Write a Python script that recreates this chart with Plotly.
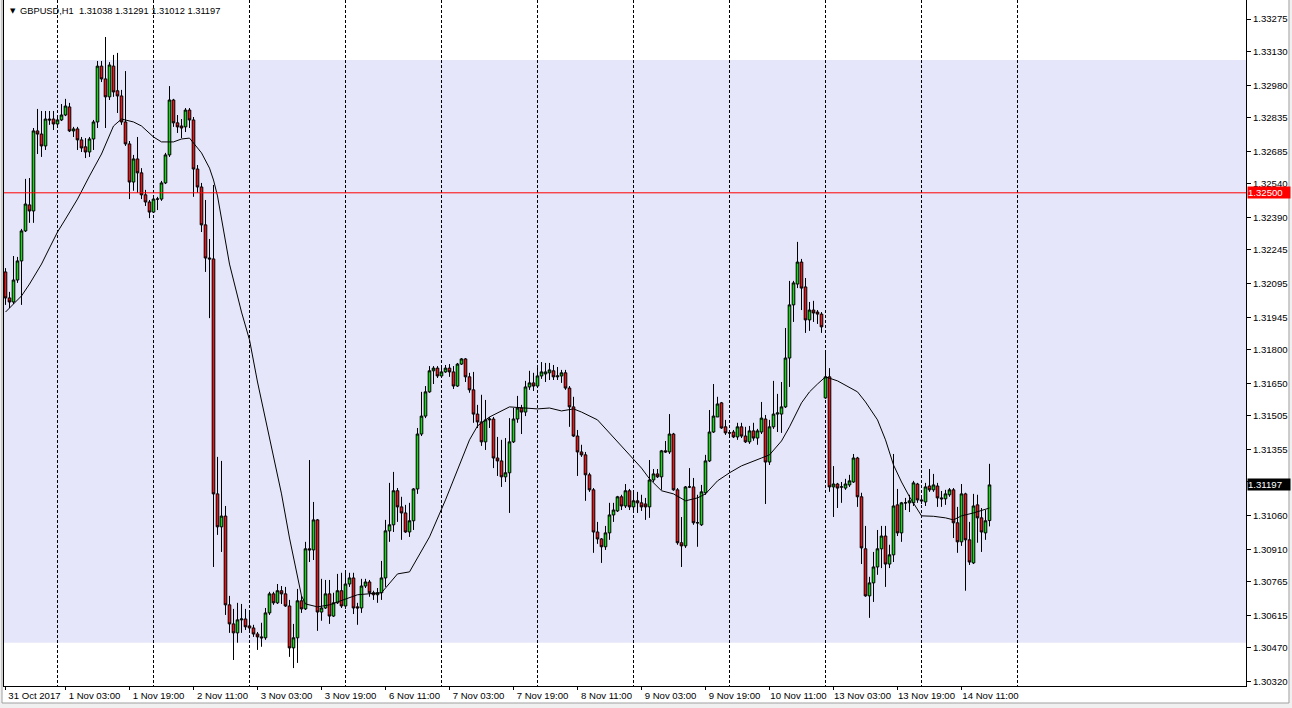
import plotly.graph_objects as go

# ---------------- data ----------------
symbol = "GBPUSD,H1"

opens = [
    1.32147, 1.32031, 1.32013, 1.32111, 1.32196, 1.32330, 1.32446, 1.32419, 1.32776, 1.32762,
    1.32709, 1.32829, 1.32829, 1.32807, 1.32825, 1.32847, 1.32883, 1.32776, 1.32785, 1.32736,
    1.32705, 1.32682, 1.32740, 1.32816, 1.33065, 1.33008, 1.32928, 1.33065, 1.32955, 1.32932,
    1.32816, 1.32718, 1.32548, 1.32651, 1.32589, 1.32491, 1.32459, 1.32414, 1.32472, 1.32472,
    1.32544, 1.32669, 1.32914, 1.32812, 1.32798, 1.32794, 1.32869, 1.32825, 1.32606, 1.32526,
    1.32357, 1.32209, 1.32205, 1.31157, 1.31010, 1.31058, 1.30662, 1.30577, 1.30537, 1.30595,
    1.30599, 1.30568, 1.30559, 1.30532, 1.30519, 1.30515, 1.30626, 1.30711, 1.30671, 1.30725,
    1.30711, 1.30657, 1.30470, 1.30515, 1.30680, 1.30644, 1.30912, 1.30907, 1.31041, 1.30630,
    1.30648, 1.30711, 1.30612, 1.30671, 1.30725, 1.30657, 1.30755, 1.30782, 1.30653, 1.30648,
    1.30746, 1.30764, 1.30716, 1.30707, 1.30716, 1.30782, 1.30992, 1.31019, 1.31171, 1.31099,
    1.31072, 1.30987, 1.31037, 1.31179, 1.31424, 1.31504, 1.31612, 1.31706, 1.31718, 1.31683,
    1.31701, 1.31718, 1.31701, 1.31638, 1.31736, 1.31759, 1.31679, 1.31621, 1.31513, 1.31478,
    1.31389, 1.31487, 1.31491, 1.31317, 1.31304, 1.31233, 1.31251, 1.31389, 1.31491, 1.31540,
    1.31522, 1.31634, 1.31652, 1.31638, 1.31683, 1.31692, 1.31697, 1.31706, 1.31679, 1.31683,
    1.31697, 1.31629, 1.31545, 1.31415, 1.31344, 1.31331, 1.31242, 1.31175, 1.30987, 1.30956,
    1.30921, 1.30983, 1.31063, 1.31081, 1.31144, 1.31103, 1.31171, 1.31099, 1.31126, 1.31117,
    1.31112, 1.31099, 1.31219, 1.31246, 1.31233, 1.31349, 1.31344, 1.31424, 1.31175, 1.30939,
    1.30925, 1.31188, 1.31188, 1.31028, 1.31019, 1.31162, 1.31304, 1.31433, 1.31500, 1.31563,
    1.31456, 1.31429, 1.31433, 1.31411, 1.31456, 1.31415, 1.31389, 1.31438, 1.31406, 1.31433,
    1.31491, 1.31299, 1.31456, 1.31513, 1.31513, 1.31545, 1.31763, 1.32000, 1.32093, 1.32191,
    1.32080, 1.31933, 1.31977, 1.31968, 1.31959, 1.31585, 1.31679, 1.31188, 1.31201, 1.31188,
    1.31183, 1.31197, 1.31210, 1.31317, 1.31144, 1.30912, 1.30702, 1.30760, 1.30831, 1.30912,
    1.30969, 1.30844, 1.30885, 1.31108, 1.30983, 1.31117, 1.31117, 1.31117, 1.31201, 1.31130,
    1.31121, 1.31192, 1.31175, 1.31192, 1.31139, 1.31135, 1.31153, 1.31175, 1.31028, 1.30943,
    1.31157, 1.30952, 1.30849, 1.31108, 1.31050, 1.30983, 1.31038,
]

highs = [
    1.32164, 1.32058, 1.32218, 1.32214, 1.32339, 1.32562, 1.32566, 1.32789, 1.32874, 1.32865,
    1.32865, 1.32865, 1.32865, 1.32847, 1.32896, 1.32919, 1.32901, 1.32794, 1.32794, 1.32749,
    1.32744, 1.32749, 1.32825, 1.33088, 1.33088, 1.33195, 1.33083, 1.33115, 1.33124, 1.32959,
    1.33043, 1.32731, 1.32669, 1.32749, 1.32610, 1.32513, 1.32468, 1.32482, 1.32482, 1.32553,
    1.32678, 1.32976, 1.32919, 1.32847, 1.32829, 1.32878, 1.32878, 1.32838, 1.32624, 1.32544,
    1.32468, 1.32294, 1.32535, 1.31322, 1.31304, 1.31103, 1.30702, 1.30644, 1.30671, 1.30666,
    1.30644, 1.30630, 1.30573, 1.30541, 1.30582, 1.30648, 1.30720, 1.30720, 1.30755, 1.30746,
    1.30742, 1.30684, 1.30577, 1.30733, 1.30702, 1.30943, 1.31308, 1.31121, 1.31045, 1.30778,
    1.30773, 1.30773, 1.30716, 1.30800, 1.30805, 1.30809, 1.30805, 1.30805, 1.30671, 1.30778,
    1.30778, 1.30773, 1.30725, 1.30737, 1.30858, 1.31041, 1.31206, 1.31255, 1.31183, 1.31144,
    1.31108, 1.31117, 1.31183, 1.31451, 1.31612, 1.31638, 1.31727, 1.31727, 1.31727, 1.31727,
    1.31732, 1.31736, 1.31727, 1.31741, 1.31763, 1.31763, 1.31697, 1.31701, 1.31554, 1.31599,
    1.31576, 1.31500, 1.31500, 1.31411, 1.31398, 1.31406, 1.31495, 1.31540, 1.31594, 1.31554,
    1.31661, 1.31706, 1.31697, 1.31732, 1.31745, 1.31741, 1.31741, 1.31732, 1.31723, 1.31710,
    1.31710, 1.31638, 1.31590, 1.31442, 1.31376, 1.31344, 1.31251, 1.31183, 1.31032, 1.30960,
    1.31014, 1.31117, 1.31117, 1.31148, 1.31153, 1.31201, 1.31179, 1.31166, 1.31166, 1.31153,
    1.31139, 1.31308, 1.31268, 1.31268, 1.31353, 1.31393, 1.31513, 1.31429, 1.31183, 1.31054,
    1.31192, 1.31272, 1.31228, 1.31153, 1.31197, 1.31331, 1.31531, 1.31647, 1.31590, 1.31567,
    1.31487, 1.31442, 1.31442, 1.31474, 1.31474, 1.31456, 1.31460, 1.31474, 1.31447, 1.31567,
    1.31509, 1.31487, 1.31661, 1.31603, 1.31656, 1.31897, 1.32107, 1.32107, 1.32281, 1.32205,
    1.32120, 1.32013, 1.32018, 1.31977, 1.31968, 1.31790, 1.31718, 1.31281, 1.31206, 1.31210,
    1.31224, 1.31242, 1.31335, 1.31322, 1.31162, 1.31014, 1.30787, 1.30898, 1.30996, 1.31014,
    1.31014, 1.30930, 1.31335, 1.31179, 1.31121, 1.31139, 1.31153, 1.31215, 1.31206, 1.31144,
    1.31206, 1.31268, 1.31246, 1.31206, 1.31170, 1.31175, 1.31183, 1.31183, 1.31099, 1.31201,
    1.31162, 1.31032, 1.31157, 1.31153, 1.31094, 1.31085, 1.31291,
]

lows = [
    1.32000, 1.31986, 1.32004, 1.32098, 1.32000, 1.32325, 1.32366, 1.32366, 1.32673, 1.32660,
    1.32691, 1.32803, 1.32780, 1.32789, 1.32820, 1.32842, 1.32771, 1.32749, 1.32691, 1.32682,
    1.32655, 1.32660, 1.32691, 1.32789, 1.32994, 1.32789, 1.32914, 1.32928, 1.32856, 1.32803,
    1.32709, 1.32472, 1.32509, 1.32500, 1.32472, 1.32441, 1.32387, 1.32410, 1.32423, 1.32464,
    1.32539, 1.32660, 1.32794, 1.32767, 1.32744, 1.32771, 1.32789, 1.32482, 1.32500, 1.32325,
    1.32147, 1.31941, 1.30831, 1.30974, 1.30898, 1.30617, 1.30537, 1.30416, 1.30493, 1.30537,
    1.30550, 1.30541, 1.30519, 1.30461, 1.30475, 1.30506, 1.30617, 1.30662, 1.30666, 1.30666,
    1.30653, 1.30430, 1.30380, 1.30403, 1.30626, 1.30639, 1.30853, 1.30862, 1.30546, 1.30591,
    1.30644, 1.30577, 1.30608, 1.30666, 1.30648, 1.30644, 1.30742, 1.30621, 1.30573, 1.30626,
    1.30737, 1.30698, 1.30684, 1.30671, 1.30684, 1.30742, 1.30943, 1.30987, 1.31032, 1.30952,
    1.30983, 1.30965, 1.30996, 1.31157, 1.31415, 1.31495, 1.31608, 1.31647, 1.31674, 1.31674,
    1.31697, 1.31679, 1.31625, 1.31634, 1.31732, 1.31656, 1.31608, 1.31474, 1.31451, 1.31371,
    1.31353, 1.31451, 1.31272, 1.31237, 1.31188, 1.31210, 1.31072, 1.31384, 1.31474, 1.31424,
    1.31504, 1.31621, 1.31616, 1.31629, 1.31670, 1.31656, 1.31665, 1.31665, 1.31665, 1.31652,
    1.31621, 1.31456, 1.31411, 1.31237, 1.31322, 1.31126, 1.31166, 1.30894, 1.30934, 1.30849,
    1.30907, 1.30952, 1.31032, 1.31076, 1.31085, 1.31094, 1.31085, 1.31085, 1.31072, 1.31081,
    1.31041, 1.31050, 1.31210, 1.31228, 1.31175, 1.31340, 1.31335, 1.31171, 1.30930, 1.30831,
    1.30916, 1.31183, 1.31019, 1.30921, 1.31014, 1.31153, 1.31299, 1.31429, 1.31500, 1.31447,
    1.31420, 1.31406, 1.31406, 1.31398, 1.31406, 1.31384, 1.31380, 1.31394, 1.31376, 1.31424,
    1.31112, 1.31286, 1.31447, 1.31433, 1.31429, 1.31540, 1.31634, 1.31924, 1.32075, 1.31977,
    1.31875, 1.31884, 1.31924, 1.31915, 1.31875, 1.31581, 1.31166, 1.31054, 1.31094, 1.31117,
    1.31175, 1.31188, 1.31206, 1.31099, 1.30844, 1.30698, 1.30604, 1.30675, 1.30796, 1.30826,
    1.30742, 1.30826, 1.30853, 1.30969, 1.30943, 1.31085, 1.31076, 1.31103, 1.31117, 1.31112,
    1.31103, 1.31166, 1.31166, 1.31099, 1.31099, 1.31108, 1.31144, 1.30960, 1.30894, 1.30925,
    1.30725, 1.30840, 1.30844, 1.30939, 1.30898, 1.30952, 1.31012,
]

closes = [
    1.32031, 1.32013, 1.32111, 1.32196, 1.32330, 1.32450, 1.32419, 1.32776, 1.32762, 1.32709,
    1.32829, 1.32825, 1.32807, 1.32825, 1.32847, 1.32887, 1.32776, 1.32785, 1.32736, 1.32700,
    1.32682, 1.32740, 1.32816, 1.33065, 1.33008, 1.32928, 1.33070, 1.32950, 1.32932, 1.32816,
    1.32718, 1.32548, 1.32651, 1.32589, 1.32491, 1.32459, 1.32414, 1.32472, 1.32472, 1.32544,
    1.32669, 1.32914, 1.32812, 1.32794, 1.32789, 1.32869, 1.32825, 1.32606, 1.32526, 1.32357,
    1.32209, 1.32205, 1.31157, 1.31010, 1.31058, 1.30662, 1.30577, 1.30537, 1.30595, 1.30599,
    1.30564, 1.30559, 1.30532, 1.30519, 1.30515, 1.30626, 1.30711, 1.30671, 1.30725, 1.30711,
    1.30657, 1.30470, 1.30515, 1.30680, 1.30644, 1.30912, 1.30907, 1.31041, 1.30630, 1.30648,
    1.30711, 1.30612, 1.30671, 1.30725, 1.30657, 1.30755, 1.30782, 1.30648, 1.30648, 1.30746,
    1.30764, 1.30716, 1.30707, 1.30716, 1.30782, 1.30992, 1.31019, 1.31171, 1.31099, 1.31072,
    1.30987, 1.31037, 1.31179, 1.31424, 1.31504, 1.31612, 1.31706, 1.31718, 1.31683, 1.31701,
    1.31718, 1.31701, 1.31638, 1.31736, 1.31759, 1.31679, 1.31621, 1.31513, 1.31478, 1.31389,
    1.31487, 1.31491, 1.31317, 1.31304, 1.31233, 1.31251, 1.31389, 1.31491, 1.31540, 1.31522,
    1.31634, 1.31652, 1.31638, 1.31683, 1.31701, 1.31701, 1.31710, 1.31679, 1.31683, 1.31697,
    1.31629, 1.31545, 1.31415, 1.31344, 1.31331, 1.31242, 1.31175, 1.30987, 1.30956, 1.30921,
    1.30983, 1.31063, 1.31085, 1.31144, 1.31103, 1.31171, 1.31099, 1.31126, 1.31117, 1.31099,
    1.31099, 1.31219, 1.31246, 1.31233, 1.31349, 1.31344, 1.31424, 1.31175, 1.30939, 1.30925,
    1.31188, 1.31188, 1.31028, 1.31028, 1.31166, 1.31304, 1.31433, 1.31504, 1.31558, 1.31451,
    1.31429, 1.31429, 1.31411, 1.31456, 1.31415, 1.31389, 1.31438, 1.31406, 1.31438, 1.31495,
    1.31299, 1.31456, 1.31513, 1.31518, 1.31545, 1.31763, 1.32000, 1.32098, 1.32191, 1.32075,
    1.31933, 1.31977, 1.31964, 1.31959, 1.31902, 1.31679, 1.31188, 1.31201, 1.31183, 1.31188,
    1.31201, 1.31215, 1.31317, 1.31144, 1.30916, 1.30702, 1.30760, 1.30831, 1.30912, 1.30969,
    1.30844, 1.30885, 1.31103, 1.30983, 1.31117, 1.31117, 1.31126, 1.31206, 1.31130, 1.31126,
    1.31188, 1.31175, 1.31197, 1.31139, 1.31135, 1.31157, 1.31175, 1.31028, 1.30943, 1.31157,
    1.30952, 1.30853, 1.31103, 1.31050, 1.30987, 1.31037, 1.31197,
]

bar_index = list(range(len(closes)))

# moving-average line, read at selected bars
ma_bars = [0, 4, 6, 9, 11, 13, 15, 18, 21, 24, 27, 29, 32, 34, 37, 39, 42, 44, 46, 47,
           49, 51, 52, 53, 56, 59, 61, 63, 66, 69, 71, 73, 74, 75, 78, 81, 84, 88, 94, 98,
           101, 103, 106, 110, 113, 116, 118, 121, 126, 129, 133, 136, 139, 142, 144, 148, 152, 156, 159, 161,
           164, 167, 170, 173, 175, 178, 181, 184, 189, 191, 194, 196, 199, 201, 203, 205, 208, 213, 215, 218,
           220, 222, 224, 226, 229, 232, 235, 237, 239, 242, 246]
ma_values = [1.31968, 1.32040, 1.32093, 1.32182, 1.32254, 1.32325, 1.32383, 1.32472, 1.32575, 1.32673,
             1.32798, 1.32829, 1.32816, 1.32798, 1.32749, 1.32727, 1.32727, 1.32740, 1.32744, 1.32722,
             1.32678, 1.32610, 1.32557, 1.32486, 1.32182, 1.31968, 1.31844, 1.31656, 1.31407, 1.31157,
             1.30960, 1.30791, 1.30702, 1.30666, 1.30653, 1.30662, 1.30680, 1.30707, 1.30716, 1.30800,
             1.30809, 1.30871, 1.30965, 1.31130, 1.31268, 1.31398, 1.31460, 1.31500, 1.31545, 1.31540,
             1.31536, 1.31540, 1.31527, 1.31536, 1.31522, 1.31487, 1.31411, 1.31331, 1.31272, 1.31224,
             1.31171, 1.31157, 1.31126, 1.31139, 1.31157, 1.31215, 1.31251, 1.31282, 1.31317, 1.31331,
             1.31393, 1.31456, 1.31563, 1.31612, 1.31647, 1.31679, 1.31661, 1.31612, 1.31567, 1.31487,
             1.31398, 1.31286, 1.31210, 1.31144, 1.31059, 1.31057, 1.31050, 1.31041, 1.31059, 1.31072,
             1.31094]

time_label_bars = [0, 15, 31, 47, 63, 79, 95, 111, 127, 143, 159, 175, 191, 207, 223, 239]
time_labels = ["31 Oct 2017", "1 Nov 03:00", "1 Nov 19:00", "2 Nov 11:00", "3 Nov 03:00",
               "3 Nov 19:00", "6 Nov 11:00", "7 Nov 03:00", "7 Nov 19:00", "8 Nov 11:00",
               "9 Nov 03:00", "9 Nov 19:00", "10 Nov 11:00", "13 Nov 03:00", "13 Nov 19:00",
               "14 Nov 11:00"]
grid_bars = list(range(13, 260, 24))  # daily separators (every 24 H1 bars)

price_ticks = [1.33275, 1.33130, 1.32980, 1.32835, 1.32685, 1.32540, 1.32390, 1.32245,
               1.32095, 1.31945, 1.31800, 1.31650, 1.31505, 1.31355, 1.31210, 1.31060,
               1.30910, 1.30765, 1.30615, 1.30470, 1.30320]

level_line = 1.32500
zone_top = 1.33092
zone_bottom = 1.30493

# ---------------- figure ----------------
FONT = "Liberation Sans"
FS = 9.6

fig = go.Figure()
fig.add_trace(go.Candlestick(
    x=bar_index, open=opens, high=highs, low=lows, close=closes,
    increasing=dict(line=dict(color="black", width=1), fillcolor="#10DC10"),
    decreasing=dict(line=dict(color="black", width=1), fillcolor="#F01414"),
    whiskerwidth=0, showlegend=False, hoverinfo="skip",
))
fig.add_trace(go.Scatter(
    x=ma_bars, y=ma_values, mode="lines",
    line=dict(color="black", width=1), showlegend=False, hoverinfo="skip",
))

shapes = [
    # window area (white) with thin grey frame
    dict(type="rect", xref="paper", yref="paper", x0=-0.0016, x1=1.0346, y0=-0.0248, y1=1.02,
         fillcolor="white", line=dict(color="#A0A0A0", width=1), layer="below"),
    # lavender rectangle zone
    dict(type="rect", xref="paper", yref="y", x0=0, x1=1, y0=zone_bottom, y1=zone_top,
         fillcolor="#E6E6FA", line=dict(width=0), layer="below"),
    # horizontal level line
    dict(type="line", xref="paper", yref="y", x0=0, x1=1, y0=level_line, y1=level_line,
         line=dict(color="#FF0000", width=1), layer="above"),
]

last = len(closes) - 1
title_text = (f"{symbol}\u00a0\u00a0{opens[last]:.5f} {highs[last]:.5f} "
              f"{lows[last]:.5f} {closes[last]:.5f}")

annotations = [
    dict(xref="paper", yref="paper", x=0, y=1, xanchor="left", yanchor="top",
         xshift=4, yshift=-5, text="\u25bc", showarrow=False,
         font=dict(family="DejaVu Sans", size=7, color="black")),
    dict(xref="paper", yref="paper", x=0, y=1, xanchor="left", yanchor="top",
         xshift=14, yshift=-4, text=title_text, showarrow=False,
         font=dict(family=FONT, size=9.3, color="black")),
    dict(xref="paper", yref="y", x=1, y=level_line, xanchor="left", yanchor="middle",
         xshift=1, text=f"{level_line:.5f}", showarrow=False, bgcolor="#FF0000",
         width=42, height=11, align="left", borderpad=0,
         font=dict(family=FONT, size=FS, color="white")),
    dict(xref="paper", yref="y", x=1, y=closes[last], xanchor="left", yanchor="middle",
         xshift=1, text=f"{closes[last]:.5f}", showarrow=False, bgcolor="black",
         width=42, height=11, align="left", borderpad=0,
         font=dict(family=FONT, size=FS, color="white")),
]

fig.update_layout(
    width=1292, height=708,
    margin=dict(l=4, r=46, t=0, b=22, autoexpand=False),
    paper_bgcolor="#F0F0F0", plot_bgcolor="white",
    showlegend=False,
    boxgap=0.35, boxgroupgap=0.0,
    font=dict(family=FONT, size=FS, color="black"),
    shapes=shapes,
    annotations=annotations,
    xaxis=dict(
        range=[-0.375, 310.125], rangeslider=dict(visible=False),
        tickmode="array", tickvals=time_label_bars, ticktext=time_labels,
        ticks="outside", ticklen=3, tickcolor="black", tickwidth=1,
        ticklabelshift=29, ticklabelstandoff=-3,
        showgrid=False, zeroline=False,
        showline=True, linecolor="black", linewidth=1,
        minor=dict(tickmode="array", tickvals=grid_bars, showgrid=True,
                   gridcolor="black", griddash="3px,2px", gridwidth=1, ticklen=0),
        tickfont=dict(family=FONT, size=FS, color="black"),
        automargin=False,
    ),
    yaxis=dict(
        side="right", range=[1.30300, 1.33360],
        tickmode="array", tickvals=price_ticks,
        ticktext=[f"{v:.5f}" for v in price_ticks],
        ticks="outside", ticklen=4, tickcolor="black", tickwidth=1,
        showgrid=False, zeroline=False,
        showline=True, mirror=True, linecolor="black", linewidth=1,
        tickfont=dict(family=FONT, size=FS, color="black"),
        automargin=False,
    ),
)

fig.write_html(
    "out.html",
    config={"displayModeBar": False},
    post_script="document.body.style.margin='0px';document.body.style.overflow='hidden';",
)
